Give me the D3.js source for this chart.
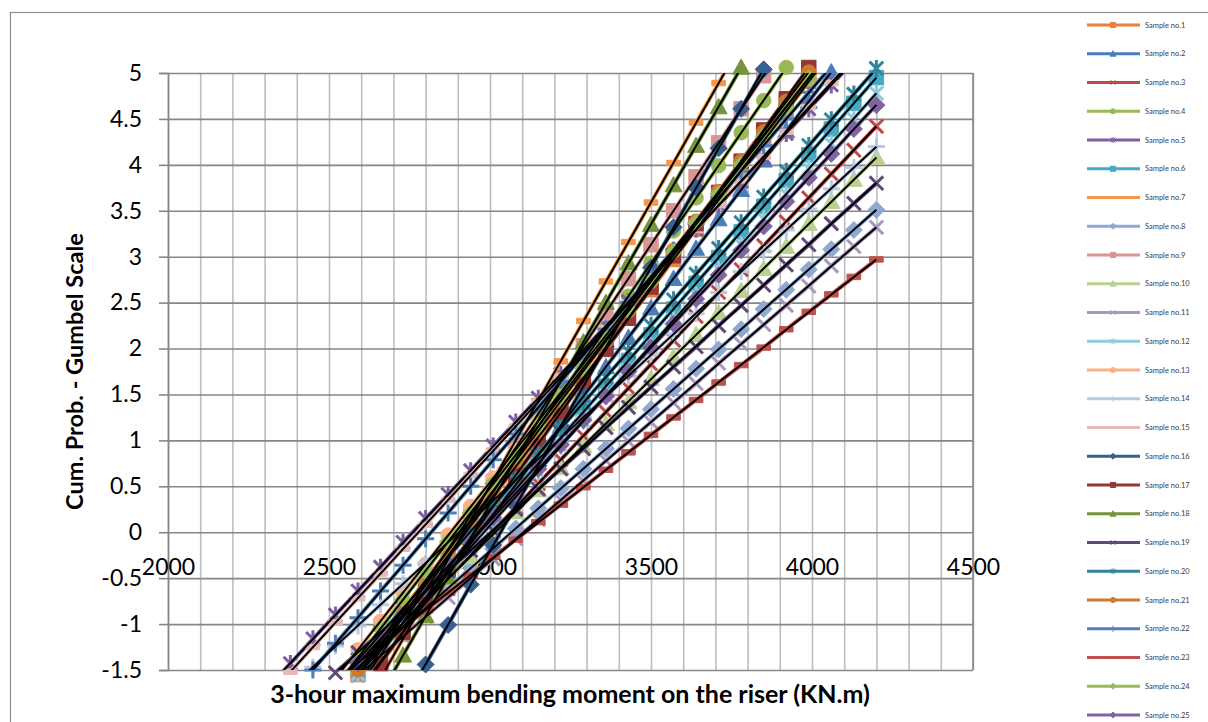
<!DOCTYPE html>
<html>
<head>
<meta charset="utf-8">
<script src="https://cdn.jsdelivr.net/npm/d3@7"></script>
<style>
  body { margin: 0; background: #fff; }
  svg { display: block; font-family: Lato, "Open Sans", sans-serif; }
</style>
</head>
<body>
<svg id="chart" width="1208" height="722"></svg>
<script>
// moment values (KN.m) shared by every sample
const xGrid = [2310, 2380, 2450, 2520, 2590, 2660, 2730, 2800, 2870, 2940, 3010, 3080, 3150, 3220,
  3290, 3360, 3430, 3500, 3570, 3640, 3710, 3780, 3850, 3920, 3990, 4060, 4130, 4200];

// index into xGrid where each sample begins
const startIndex = [4, 4, 4, 4, 0, 3, 5, 3, 4, 3, 4, 4, 3, 1, 0, 6, 4, 5, 2, 3, 3, 1, 3, 3, 3];

// Gumbel reduced variate per sample
const s1 = [-1.55, -1.21, -0.90, -0.57, -0.26, 0.08, 0.39, 0.70, 1.04, 1.36, 1.67, 2.01, 2.33, 2.64, 2.97, 3.30, 3.61, 3.94, 4.27, 4.58, 4.91, 5.23];
const s2 = [-1.73, -1.41, -1.09, -0.77, -0.45, -0.12, 0.20, 0.52, 0.84, 1.16, 1.48, 1.80, 2.12, 2.44, 2.76, 3.09, 3.41, 3.73, 4.05, 4.37, 4.69, 5.01, 5.33];
const s3 = [-1.54, -1.29, -1.03, -0.77, -0.51, -0.25, 0.01, 0.27, 0.53, 0.79, 1.05, 1.31, 1.57, 1.83, 2.09, 2.35, 2.61, 2.86, 3.12, 3.38, 3.64, 3.90, 4.16, 4.42];
const s4 = [-1.69, -1.34, -0.98, -0.63, -0.27, 0.08, 0.44, 0.79, 1.15, 1.51, 1.86, 2.22, 2.57, 2.93, 3.28, 3.64, 3.99, 4.35, 4.70, 5.06];
const s5 = [-1.69, -1.43, -1.16, -0.90, -0.64, -0.38, -0.11, 0.15, 0.41, 0.67, 0.94, 1.20, 1.46, 1.72, 1.98, 2.25, 2.51, 2.77, 3.03, 3.30, 3.56, 3.82, 4.08, 4.34, 4.61, 4.87, 5.13];
const s6 = [-1.77, -1.49, -1.21, -0.93, -0.65, -0.37, -0.09, 0.19, 0.47, 0.75, 1.03, 1.31, 1.59, 1.87, 2.15, 2.43, 2.71, 2.99, 3.27, 3.55, 3.83, 4.11, 4.39, 4.67, 4.95];
const s7 = [-1.59, -1.16, -0.73, -0.30, 0.14, 0.57, 1.00, 1.43, 1.86, 2.30, 2.73, 3.16, 3.59, 4.02, 4.46, 4.89, 5.32];
const s8 = [-1.69, -1.48, -1.26, -1.04, -0.83, -0.61, -0.39, -0.18, 0.04, 0.26, 0.48, 0.69, 0.91, 1.13, 1.34, 1.56, 1.78, 1.99, 2.21, 2.43, 2.64, 2.86, 3.08, 3.29, 3.51];
const s9 = [-1.66, -1.29, -0.92, -0.55, -0.18, 0.18, 0.55, 0.92, 1.29, 1.66, 2.03, 2.39, 2.76, 3.13, 3.50, 3.87, 4.24, 4.61, 4.97, 5.34];
const s10 = [-1.71, -1.47, -1.23, -0.99, -0.75, -0.51, -0.27, -0.02, 0.22, 0.46, 0.70, 0.94, 1.18, 1.42, 1.67, 1.91, 2.15, 2.39, 2.63, 2.87, 3.11, 3.36, 3.60, 3.84, 4.08];
const s11 = [-1.56, -1.35, -1.13, -0.92, -0.71, -0.50, -0.29, -0.07, 0.14, 0.35, 0.56, 0.78, 0.99, 1.20, 1.41, 1.62, 1.84, 2.05, 2.26, 2.47, 2.68, 2.90, 3.11, 3.32];
const s12 = [-1.54, -1.26, -0.99, -0.71, -0.44, -0.16, 0.11, 0.39, 0.66, 0.94, 1.21, 1.49, 1.76, 2.03, 2.31, 2.58, 2.86, 3.13, 3.41, 3.68, 3.96, 4.23, 4.50, 4.78];
const s13 = [-1.59, -1.28, -0.97, -0.66, -0.35, -0.03, 0.28, 0.59, 0.90, 1.21, 1.52, 1.83, 2.14, 2.46, 2.77, 3.08, 3.39, 3.70, 4.01, 4.32, 4.63, 4.94, 5.26];
const s14 = [-1.69, -1.47, -1.24, -1.02, -0.79, -0.56, -0.34, -0.11, 0.12, 0.34, 0.57, 0.80, 1.02, 1.25, 1.48, 1.70, 1.93, 2.16, 2.38, 2.61, 2.84, 3.06, 3.29, 3.52, 3.74, 3.97, 4.20];
const s15 = [-1.79, -1.52, -1.25, -0.98, -0.72, -0.45, -0.18, 0.08, 0.35, 0.62, 0.89, 1.15, 1.42, 1.69, 1.96, 2.22, 2.49, 2.76, 3.02, 3.29, 3.56, 3.83, 4.09, 4.36, 4.63, 4.89, 5.16];
const s16 = [-1.87, -1.44, -1.01, -0.57, -0.14, 0.29, 0.72, 1.16, 1.59, 2.02, 2.45, 2.88, 3.32, 3.75, 4.18, 4.61, 5.04];
const s17 = [-1.77, -1.43, -1.09, -0.74, -0.40, -0.06, 0.28, 0.62, 0.96, 1.31, 1.65, 1.99, 2.33, 2.67, 3.01, 3.36, 3.70, 4.04, 4.38, 4.72, 5.06];
const s18 = [-1.77, -1.34, -0.91, -0.49, -0.06, 0.37, 0.79, 1.22, 1.65, 2.07, 2.50, 2.93, 3.35, 3.78, 4.21, 4.63, 5.06];
const s19 = [-1.75, -1.53, -1.31, -1.09, -0.87, -0.64, -0.42, -0.20, 0.02, 0.25, 0.47, 0.69, 0.91, 1.14, 1.36, 1.58, 1.80, 2.02, 2.25, 2.47, 2.69, 2.91, 3.13, 3.36, 3.58, 3.80];
const s20 = [-1.67, -1.39, -1.11, -0.83, -0.55, -0.27, 0.01, 0.29, 0.57, 0.85, 1.13, 1.41, 1.69, 1.97, 2.25, 2.53, 2.81, 3.09, 3.37, 3.65, 3.93, 4.21, 4.49, 4.77, 5.05];
const s21 = [-1.83, -1.50, -1.18, -0.85, -0.52, -0.20, 0.13, 0.45, 0.78, 1.10, 1.43, 1.76, 2.08, 2.41, 2.73, 3.06, 3.38, 3.71, 4.04, 4.36, 4.69, 5.01, 5.34];
const s22 = [-1.79, -1.50, -1.21, -0.93, -0.64, -0.36, -0.07, 0.21, 0.50, 0.79, 1.07, 1.36, 1.64, 1.93, 2.21, 2.50, 2.79, 3.07, 3.36, 3.64, 3.93, 4.21, 4.50, 4.79, 5.07];
const s23 = [-1.61, -1.42, -1.23, -1.04, -0.85, -0.66, -0.47, -0.27, -0.08, 0.11, 0.30, 0.49, 0.68, 0.87, 1.06, 1.25, 1.44, 1.63, 1.82, 2.01, 2.21, 2.40, 2.59, 2.78, 2.97];
const s24 = [-1.68, -1.37, -1.05, -0.73, -0.42, -0.10, 0.21, 0.53, 0.84, 1.16, 1.47, 1.79, 2.10, 2.42, 2.73, 3.05, 3.37, 3.68, 4.00, 4.31, 4.63, 4.94, 5.26];
const s25 = [-1.69, -1.43, -1.16, -0.90, -0.63, -0.37, -0.10, 0.16, 0.42, 0.69, 0.95, 1.22, 1.48, 1.75, 2.01, 2.27, 2.54, 2.80, 3.07, 3.33, 3.60, 3.86, 4.12, 4.39, 4.65];

const sampleValues = [s1, s2, s3, s4, s5, s6, s7, s8, s9, s10, s11, s12, s13, s14, s15, s16, s17, s18, s19, s20, s21, s22, s23, s24, s25];

const sampleColors = ["#E8823C", "#4A7EBB", "#BE4B48", "#98B954", "#7D60A0", "#46AAC5", "#F79646", "#8EA9D3",
  "#D99694", "#BCD08F", "#A898C1", "#8DCBDD", "#FAB285", "#B9C9E2", "#E6B9B8", "#376092", "#953735",
  "#77933C", "#604A7B", "#31859C", "#CD7A2F", "#4F81BD", "#C0504D", "#9BBB59", "#8064A2"];

const sampleMarkers = ["square", "triangle", "x", "circle", "star", "square", "dash", "diamond", "square",
  "triangle", "x", "star", "circle", "plus", "dash", "diamond", "square", "triangle", "x", "star",
  "circle", "plus", "dash", "diamond", "diamond"];

const xTicks = [2000, 2500, 3000, 3500, 4000, 4500];
const yTicks = [-1.5, -1, -0.5, 0, 0.5, 1, 1.5, 2, 2.5, 3, 3.5, 4, 4.5, 5];

const svg = d3.select("#chart");
const plotLeft = 168, plotRight = 973, plotTop = 73, plotBottom = 670;

const x = d3.scaleLinear().domain([2000, 4500]).range([plotLeft, plotRight]);
const y = d3.scaleLinear().domain([-1.5, 5]).range([plotBottom, plotTop]);

svg.append("rect").attr("width", 1208).attr("height", 722).attr("fill", "#fff");
svg.append("rect")
  .attr("x", 10.5).attr("y", 12.5).attr("width", 1300).attr("height", 800)
  .attr("fill", "none").attr("stroke", "#8c8c8c").attr("stroke-width", 1.2);

// minor vertical grid every 100
svg.append("g")
  .attr("transform", `translate(0,${plotBottom})`)
  .call(d3.axisBottom(x).tickValues(d3.range(2000, 4501, 100)).tickSize(-(plotBottom - plotTop)).tickFormat(""))
  .call(g => g.select(".domain").remove())
  .call(g => g.selectAll("line").attr("stroke", "#bdbdbd").attr("stroke-width", 1.6));

// horizontal grid
svg.append("g")
  .attr("transform", `translate(${plotLeft},0)`)
  .call(d3.axisLeft(y).tickValues(yTicks).tickSize(-(plotRight - plotLeft)).tickFormat(""))
  .call(g => g.select(".domain").remove())
  .call(g => g.selectAll("line").attr("stroke", "#868686").attr("stroke-width", 1.6));

svg.append("line")
  .attr("x1", plotRight).attr("x2", plotRight).attr("y1", plotTop).attr("y2", plotBottom)
  .attr("stroke", "#868686").attr("stroke-width", 1.6);

// plain hyphen for negatives, like the spreadsheet output
const plainFormat = d => String(d);

// y axis with labels
svg.append("g")
  .attr("transform", `translate(${plotLeft},0)`)
  .call(d3.axisLeft(y).tickValues(yTicks).tickSize(9).tickPadding(17).tickFormat(plainFormat))
  .call(g => g.select(".domain").attr("stroke", "#868686").attr("stroke-width", 1.6))
  .call(g => g.selectAll("line").attr("stroke", "#868686").attr("stroke-width", 1.6))
  .call(g => g.selectAll("text").attr("font-size", 23).attr("fill", "#000").attr("font-family", "Lato, sans-serif"));

// x labels sit under the zero line
svg.append("g")
  .attr("transform", `translate(0,${y(0)})`)
  .call(d3.axisBottom(x).tickValues(xTicks).tickSize(0).tickPadding(26).tickFormat(plainFormat))
  .call(g => g.select(".domain").remove())
  .call(g => g.selectAll("text").attr("font-size", 23).attr("fill", "#000").attr("font-family", "Lato, sans-serif"));

svg.append("defs").append("clipPath").attr("id", "plot-clip")
  .append("rect").attr("x", plotLeft).attr("y", plotTop)
  .attr("width", plotRight - plotLeft).attr("height", plotBottom - plotTop);

function markerPath(type, s) {
  switch (type) {
    case "diamond": return `M0,${-s}L${s},0L0,${s}L${-s},0Z`;
    case "square": return `M${-s * 0.85},${-s * 0.85}h${1.7 * s}v${1.7 * s}h${-1.7 * s}Z`;
    case "triangle": return `M0,${-s}L${s},${s * 0.8}L${-s},${s * 0.8}Z`;
    case "circle": return `M${s * 0.85},0A${s * 0.85},${s * 0.85} 0 1,1 ${-s * 0.85},0A${s * 0.85},${s * 0.85} 0 1,1 ${s * 0.85},0Z`;
    case "dash": return `M${-s * 0.8},${-s * 0.32}h${1.6 * s}v${0.64 * s}h${-1.6 * s}Z`;
    case "x": return `M${-s * 0.8},${-s * 0.8}L${s * 0.8},${s * 0.8}M${s * 0.8},${-s * 0.8}L${-s * 0.8},${s * 0.8}`;
    case "star": return `M${-s * 0.8},${-s * 0.8}L${s * 0.8},${s * 0.8}M${s * 0.8},${-s * 0.8}L${-s * 0.8},${s * 0.8}M0,${-s}L0,${s}`;
    case "plus": return `M${-s},0L${s},0M0,${-s}L0,${s}`;
  }
}
const strokedMarker = t => t === "x" || t === "star" || t === "plus";

const series = sampleValues.map((vals, i) => ({
  name: `Sample no.${i + 1}`,
  color: sampleColors[i],
  marker: sampleMarkers[i],
  points: vals.map((v, j) => ({ x: xGrid[startIndex[i] + j], y: v }))
}));

const line = d3.line().x(d => x(d.x)).y(d => y(d.y));
const plot = svg.append("g");

series.forEach(s => {
  const g = plot.append("g");
  g.append("path")
    .attr("clip-path", "url(#plot-clip)")
    .attr("d", line(s.points))
    .attr("fill", "none").attr("stroke", s.color).attr("stroke-width", 4);
  g.selectAll("path.mk")
    .data(s.points.filter(d => d.y >= -1.56 && d.y <= 5.06))
    .join("path")
    .attr("class", "mk")
    .attr("transform", d => `translate(${x(d.x)},${y(d.y)})`)
    .attr("d", markerPath(s.marker, 8.5))
    .attr("fill", strokedMarker(s.marker) ? "none" : s.color)
    .attr("stroke", s.color)
    .attr("stroke-width", strokedMarker(s.marker) ? 3 : 1);
});

// linear trend line of each sample, least squares over its points
const trends = plot.append("g").attr("clip-path", "url(#plot-clip)");
series.forEach(s => {
  const n = s.points.length;
  const mx = d3.mean(s.points, d => d.x), my = d3.mean(s.points, d => d.y);
  const sxy = d3.sum(s.points, d => (d.x - mx) * (d.y - my));
  const sxx = d3.sum(s.points, d => (d.x - mx) * (d.x - mx));
  const b = sxy / sxx, a = my - b * mx;
  const x0 = s.points[0].x, x1 = s.points[n - 1].x;
  trends.append("line")
    .attr("x1", x(x0)).attr("y1", y(a + b * x0))
    .attr("x2", x(x1)).attr("y2", y(a + b * x1))
    .attr("stroke", "#000").attr("stroke-width", 2);
});

// axis titles
svg.append("text")
  .attr("transform", `translate(83,${(plotTop + plotBottom) / 2}) rotate(-90)`)
  .attr("text-anchor", "middle")
  .attr("font-size", 23.5).attr("font-weight", "bold")
  .text("Cum. Prob. - Gumbel Scale");

svg.append("text")
  .attr("x", 570).attr("y", 703)
  .attr("text-anchor", "middle")
  .attr("font-size", 25).attr("font-weight", "bold")
  .text("3-hour maximum bending moment on the riser (KN.m)");

// legend
const legend = svg.append("g");
series.forEach((s, i) => {
  const ly = 25 + i * 28.75;
  const g = legend.append("g").attr("transform", `translate(0,${ly})`);
  g.append("line").attr("x1", 1087).attr("x2", 1140)
    .attr("stroke", s.color).attr("stroke-width", 3);
  g.append("path")
    .attr("transform", "translate(1113,0)")
    .attr("d", markerPath(s.marker, 3))
    .attr("fill", strokedMarker(s.marker) ? "none" : s.color)
    .attr("stroke", s.color).attr("stroke-width", 1);
  g.append("text").attr("x", 1145).attr("y", 0).attr("dy", "0.35em")
    .attr("font-size", 7.5).attr("fill", "#404040")
    .text(s.name);
});
</script>
</body>
</html>
